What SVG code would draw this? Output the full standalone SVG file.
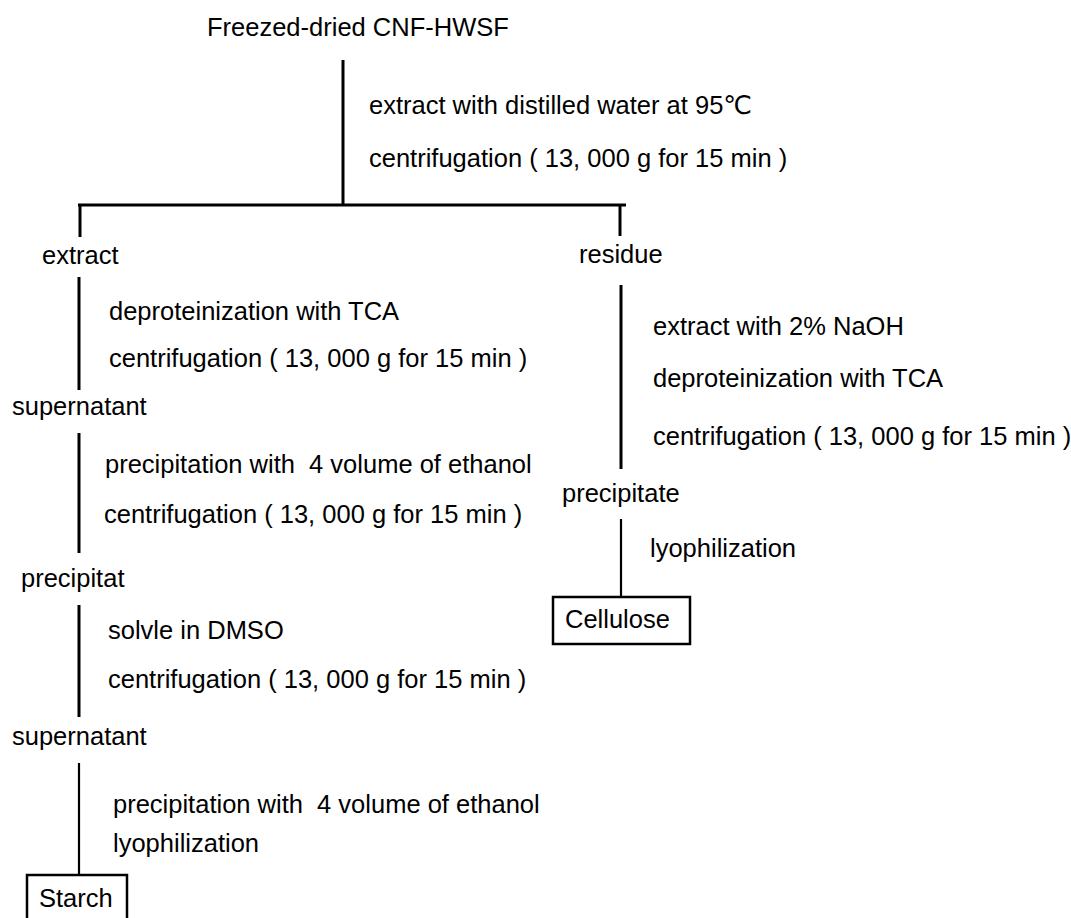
<svg xmlns="http://www.w3.org/2000/svg" width="1071" height="918" viewBox="0 0 1071 918">
<style>
text{font-family:"Liberation Sans",Arial,"DejaVu Sans",sans-serif;font-size:25.5px;fill:#000;white-space:pre}
.thick{stroke:#000;stroke-width:3;fill:none}
.thin{stroke:#000;stroke-width:2.2;fill:none}
.box{stroke:#000;stroke-width:2.5;fill:#fff}
</style>
<rect width="1071" height="918" fill="#fff"/>
<g id="connectors">
<line class="thick" x1="343" y1="60" x2="343" y2="205"/>
<line class="thick" x1="78" y1="205" x2="626" y2="205"/>
<line class="thick" x1="80" y1="205" x2="80" y2="237"/>
<line class="thick" x1="620" y1="205" x2="620" y2="236"/>
<line class="thick" x1="79" y1="277" x2="79" y2="390"/>
<line class="thick" x1="79" y1="433" x2="79" y2="553"/>
<line class="thick" x1="79" y1="605" x2="79" y2="717"/>
<line class="thin" x1="79" y1="763" x2="79" y2="875"/>
<line class="thick" x1="621" y1="285" x2="621" y2="469"/>
<line class="thin" x1="621" y1="519" x2="621" y2="597"/>
</g>
<g id="start"><text x="207" y="36">Freezed-dried CNF-HWSF</text></g>
<g id="step1">
<text x="369" y="114">extract with distilled water at 95℃</text>
<text x="369" y="167">centrifugation ( 13, 000 g for 15 min )</text>
</g>
<g id="extract"><text x="42" y="264">extract</text></g>
<g id="step-extract">
<text x="109" y="320">deproteinization with TCA</text>
<text x="109" y="367">centrifugation ( 13, 000 g for 15 min )</text>
</g>
<g id="supernatant1"><text x="12" y="415">supernatant</text></g>
<g id="step-supernatant1">
<text x="105" y="473">precipitation with  4 volume of ethanol</text>
<text x="104" y="523">centrifugation ( 13, 000 g for 15 min )</text>
</g>
<g id="precipitat"><text x="21" y="587">precipitat</text></g>
<g id="step-precipitat">
<text x="108" y="639">solvle in DMSO</text>
<text x="108" y="688">centrifugation ( 13, 000 g for 15 min )</text>
</g>
<g id="supernatant2"><text x="12" y="745">supernatant</text></g>
<g id="step-supernatant2">
<text x="113" y="813">precipitation with  4 volume of ethanol</text>
<text x="113" y="852">lyophilization</text>
</g>
<g id="starch">
<rect class="box" x="27" y="875" width="100" height="60"/>
<text x="39" y="907">Starch</text>
</g>
<g id="residue"><text x="579" y="263">residue</text></g>
<g id="step-residue">
<text x="653" y="335">extract with 2% NaOH</text>
<text x="653" y="387">deproteinization with TCA</text>
<text x="653" y="445">centrifugation ( 13, 000 g for 15 min )</text>
</g>
<g id="precipitate"><text x="562" y="502">precipitate</text></g>
<g id="step-precipitate"><text x="650" y="557">lyophilization</text></g>
<g id="cellulose">
<rect class="box" x="553" y="597" width="137" height="47"/>
<text x="565" y="628">Cellulose</text>
</g>
</svg>
